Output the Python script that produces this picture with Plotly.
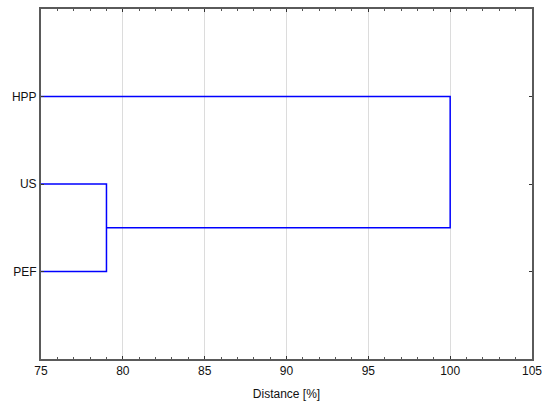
import plotly.graph_objects as go

# leaves (bottom to top) and merge distances
labels = ["PEF", "US", "HPP"]
merge_dist = [79.0, 100.0]  # PEF+US, then (PEF,US)+HPP
x_min = 75

blue = "#0000ff"
fig = go.Figure()

# first cluster: PEF + US
d1 = merge_dist[0]
fig.add_trace(go.Scatter(
    x=[x_min, d1, d1, x_min], y=[1, 1, 2, 2],
    mode="lines", line=dict(color=blue, width=1.5), hoverinfo="skip",
))
# second cluster: (PEF,US) + HPP
d2 = merge_dist[1]
fig.add_trace(go.Scatter(
    x=[d1, d2, d2, x_min], y=[1.5, 1.5, 3, 3],
    mode="lines", line=dict(color=blue, width=1.5), hoverinfo="skip",
))

axis_font = dict(family="Liberation Sans, Arial, sans-serif", size=12, color="#111")
fig.update_layout(
    width=550, height=406,
    margin=dict(l=41, r=18, t=9, b=47),
    plot_bgcolor="white", paper_bgcolor="white",
    showlegend=False,
    font=axis_font,
    xaxis=dict(
        range=[75, 105], tickvals=[75, 80, 85, 90, 95, 100, 105],
        showgrid=True, gridcolor="#dcdcdc", gridwidth=1,
        showline=True, linecolor="#5a5a5a", linewidth=2, mirror="ticks",
        ticks="inside", ticklen=3, tickcolor="#333",
        minor=dict(dtick=1, ticks="inside", ticklen=2, tickcolor="#555", showgrid=False),
        zeroline=False, automargin=False,
        title=dict(text="Distance [%]", font=dict(size=12), standoff=12),
    ),
    yaxis=dict(
        range=[0, 4], tickvals=[1, 2, 3], ticktext=labels,
        showgrid=False, zeroline=False, automargin=False,
        showline=True, linecolor="#5a5a5a", linewidth=2, mirror="ticks",
        ticks="inside", ticklen=3, tickcolor="#333",
    ),
)

# the page's default body margin would push the figure off the window
fig.write_html(
    "out.html",
    config={"displayModeBar": False},
    post_script="document.body.style.margin='0';",
)
